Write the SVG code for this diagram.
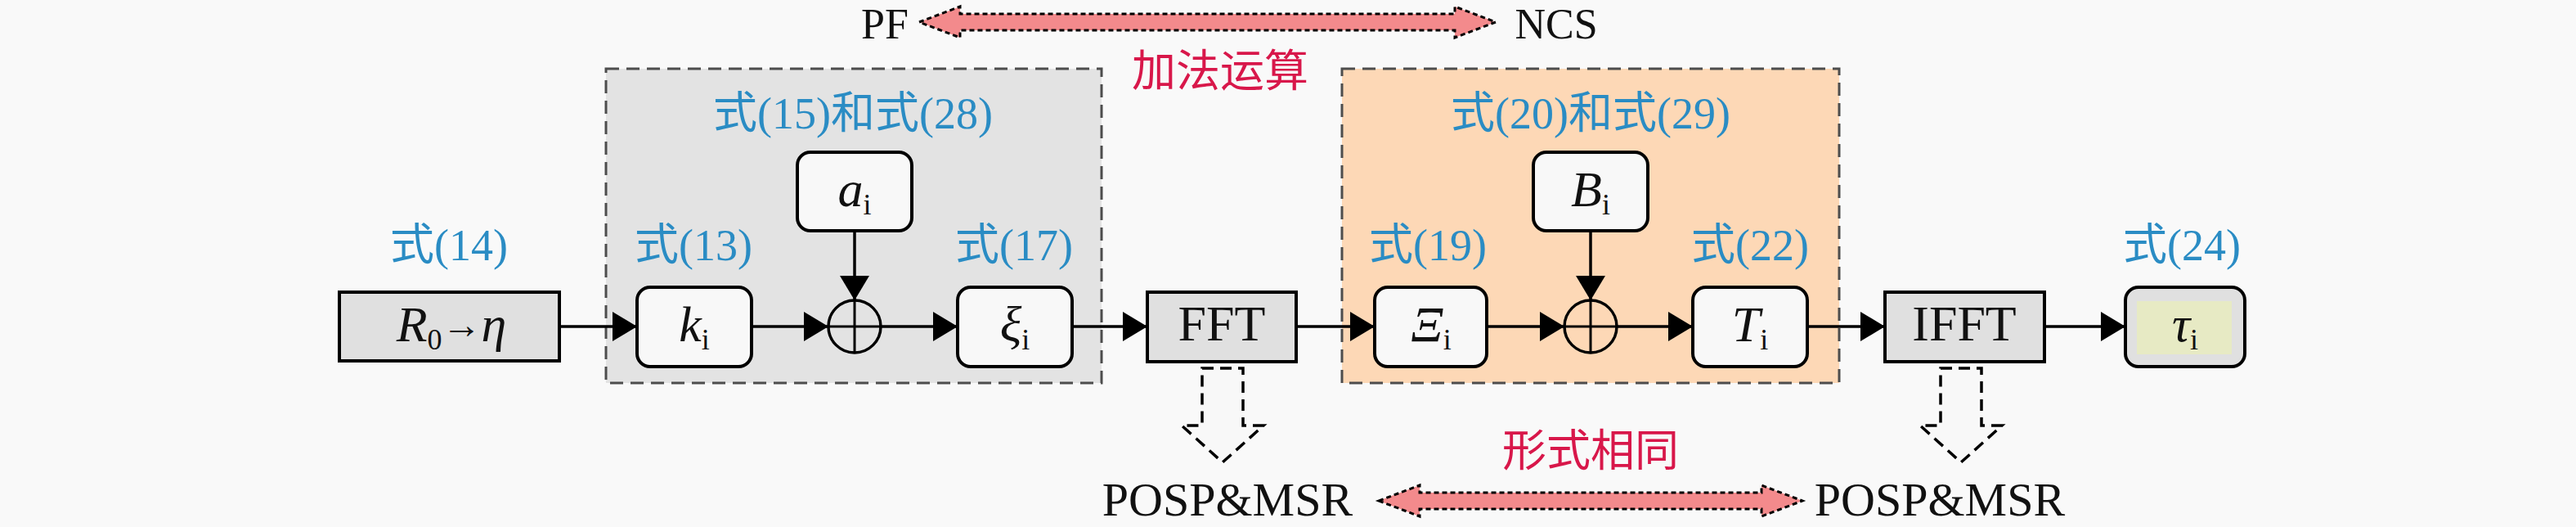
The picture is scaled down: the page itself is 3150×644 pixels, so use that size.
<svg xmlns="http://www.w3.org/2000/svg" width="3150" height="644" viewBox="0 0 3150 644">
<style>
text{font-family:"Liberation Serif","Noto Sans CJK SC",serif;}
.lbl{font-size:54px;fill:#2a8cc4;text-anchor:middle;}
.red{font-size:54px;fill:#d8174a;text-anchor:middle;font-family:"Noto Sans CJK SC",sans-serif;}
.blk{font-size:58px;fill:#111;text-anchor:middle;}
.top{font-size:52px;}
.math{font-size:62px;fill:#111;text-anchor:middle;}
.it{font-style:italic;}
.sub{font-size:36px;font-style:normal;}
.node{fill:#f8f8f8;stroke:#000;stroke-width:4;}
.gnode{fill:#e0e0e0;stroke:#000;stroke-width:4;}
.cont{stroke:#4d4d4d;stroke-width:3;stroke-dasharray:16 9;}
.con{stroke:#000;stroke-width:3.5;fill:none;}
.hollow{fill:#f8f8f8;stroke:#000;stroke-width:3.5;stroke-dasharray:14 8;}
.dbl{fill:#f38a8c;stroke:#000;stroke-width:3;stroke-dasharray:6 4;}
</style>
<defs>
<marker id="ah" markerUnits="userSpaceOnUse" markerWidth="30" markerHeight="36" refX="30" refY="18" orient="auto">
<path d="M0,0 L30,18 L0,36 Z" fill="#000"/>
</marker>
</defs>
<rect width="3150" height="644" fill="#f9f9f9"/>

<g id="container-left">
<rect class="cont" x="741" y="84" width="606" height="384" fill="#e3e3e3"/>
<text class="lbl" x="1043" y="157">式(15)和式(28)</text>
</g>
<g id="container-right">
<rect class="cont" x="1641" y="84" width="608" height="384" fill="#fdd8b6"/>
<text class="lbl" x="1945" y="157">式(20)和式(29)</text>
</g>

<g id="top-compare">
<text class="blk top" x="1082" y="47">PF</text>
<path class="dbl" d="M1124,27 L1174,8 L1174,17 L1779,17 L1779,8 L1829,27 L1779,46 L1779,37 L1174,37 L1174,46 Z"/>
<text class="blk top" x="1903" y="47">NCS</text>
<text class="red" x="1492" y="106">加法运算</text>
</g>

<g id="connectors">
<path class="con" d="M684,399 L779,399" marker-end="url(#ah)"/>
<path class="con" d="M919,399 L1013,399" marker-end="url(#ah)"/>
<path class="con" d="M1077,399 L1171,399" marker-end="url(#ah)"/>
<path class="con" d="M1311,399 L1403,399" marker-end="url(#ah)"/>
<path class="con" d="M1585,399 L1681,399" marker-end="url(#ah)"/>
<path class="con" d="M1818,399 L1913,399" marker-end="url(#ah)"/>
<path class="con" d="M1977,399 L2070,399" marker-end="url(#ah)"/>
<path class="con" d="M2210,399 L2305,399" marker-end="url(#ah)"/>
<path class="con" d="M2500,399 L2599,399" marker-end="url(#ah)"/>
<path class="con" d="M1045,282 L1045,367" marker-end="url(#ah)"/>
<path class="con" d="M1945,282 L1945,367" marker-end="url(#ah)"/>
</g>

<g id="node-R0eta">
<text class="lbl" x="549" y="318">式(14)</text>
<rect class="gnode" x="415" y="357" width="269" height="84"/>
<text class="math" x="552" y="417"><tspan class="it">R</tspan><tspan class="sub" dy="10">0</tspan><tspan dy="-14" font-size="48" font-weight="bold">→</tspan><tspan class="it" dy="4">η</tspan></text>
</g>

<g id="node-k">
<text class="lbl" x="848" y="318">式(13)</text>
<rect class="node" x="779" y="351" width="140" height="97" rx="16"/>
<text class="math" x="849" y="417"><tspan class="it">k</tspan><tspan class="sub" dy="10">i</tspan></text>
</g>

<g id="node-a">
<rect class="node" x="975" y="186" width="140" height="96" rx="16"/>
<text class="math" x="1045" y="252"><tspan class="it">a</tspan><tspan class="sub" dy="10">i</tspan></text>
</g>

<g id="node-sum1">
<circle cx="1045" cy="399" r="32" fill="none" stroke="#000" stroke-width="3.5"/>
<path d="M1045,367 L1045,431 M1013,399 L1077,399" stroke="#000" stroke-width="3"/>
</g>

<g id="node-xi">
<text class="lbl" x="1240" y="318">式(17)</text>
<rect class="node" x="1171" y="351" width="140" height="97" rx="16"/>
<text class="math" x="1241" y="417"><tspan class="it">ξ</tspan><tspan class="sub" dy="10">i</tspan></text>
</g>

<g id="node-FFT">
<rect class="gnode" x="1403" y="357" width="182" height="85"/>
<text class="math" x="1494" y="416">FFT</text>
<path class="hollow" d="M1470,450 L1520,450 L1520,520 L1545,520 L1495,565 L1445,520 L1470,520 Z"/>
<text class="blk" x="1501" y="630">POSP&amp;MSR</text>
</g>

<g id="node-Xi">
<text class="lbl" x="1746" y="318">式(19)</text>
<rect class="node" x="1681" y="351" width="137" height="97" rx="16"/>
<text class="math" x="1750" y="417"><tspan class="it">Ξ</tspan><tspan class="sub" dy="10">i</tspan></text>
</g>

<g id="node-B">
<rect class="node" x="1875" y="186" width="140" height="96" rx="16"/>
<text class="math" x="1945" y="252"><tspan class="it">B</tspan><tspan class="sub" dy="10">i</tspan></text>
</g>

<g id="node-sum2">
<circle cx="1945" cy="399" r="32" fill="none" stroke="#000" stroke-width="3.5"/>
<path d="M1945,367 L1945,431 M1913,399 L1977,399" stroke="#000" stroke-width="3"/>
</g>

<g id="node-T">
<text class="lbl" x="2140" y="318">式(22)</text>
<rect class="node" x="2070" y="351" width="140" height="97" rx="16"/>
<text class="math" x="2140" y="417"><tspan class="it">T</tspan><tspan class="sub" dy="10">i</tspan></text>
</g>

<g id="node-IFFT">
<rect class="gnode" x="2305" y="357" width="195" height="85"/>
<text class="math" x="2402" y="416">IFFT</text>
<path class="hollow" d="M2373,450 L2423,450 L2423,520 L2448,520 L2398,565 L2348,520 L2373,520 Z"/>
<text class="blk" x="2372" y="630">POSP&amp;MSR</text>
</g>

<g id="node-tau">
<text class="lbl" x="2668" y="318">式(24)</text>
<rect class="gnode" x="2599" y="351" width="146" height="97" rx="16"/>
<rect x="2613" y="368" width="116" height="65" fill="#e7eac4"/>
<text class="math" x="2672" y="417"><tspan class="it">τ</tspan><tspan class="sub" dy="10">i</tspan></text>
</g>

<g id="bottom-compare">
<text class="red" x="1945" y="570">形式相同</text>
<path class="dbl" d="M1686,612 L1736,593 L1736,602 L2154,602 L2154,593 L2204,612 L2154,631 L2154,622 L1736,622 L1736,631 Z"/>
</g>
</svg>
